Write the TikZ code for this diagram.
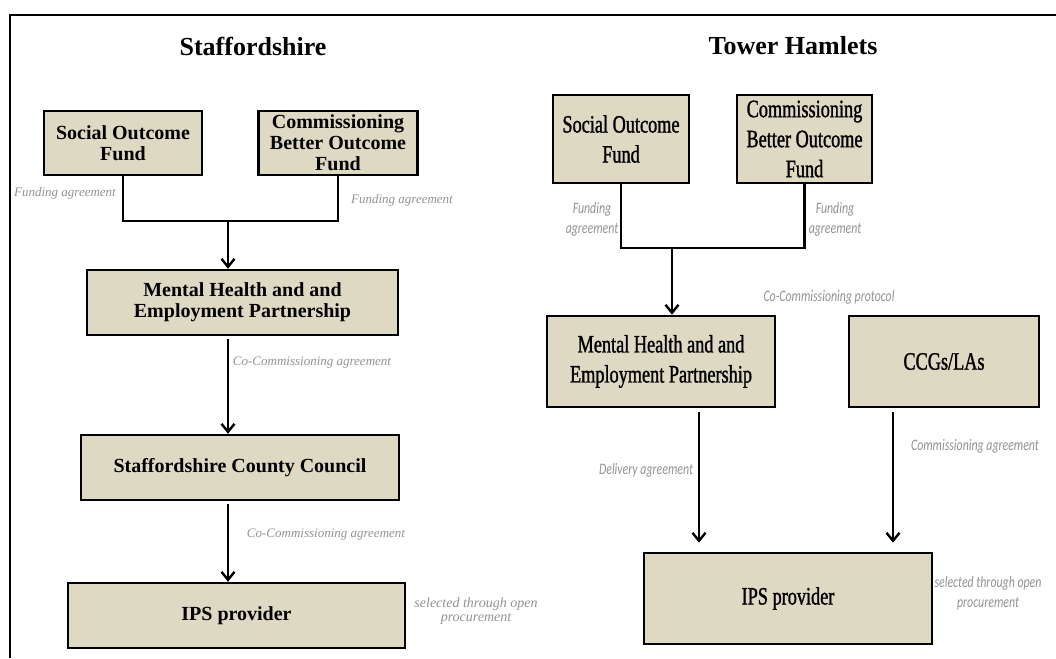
\documentclass[tikz,border=0pt]{standalone}
\usepackage{fontspec}
\setmainfont{Liberation Serif}
\newfontfamily\condserif[FakeStretch=0.73,FakeBold=1.2]{Liberation Serif}
\newfontfamily\condsans[FakeStretch=0.74]{Carlito}
\usetikzlibrary{arrows.meta}
\definecolor{boxfill}{HTML}{DDD9C3}
\definecolor{lblgray}{HTML}{939393}
\begin{document}
\begin{tikzpicture}[x=1pt,y=-1pt,
  lbox/.style={draw=black, line width=2.5pt, fill=boxfill, align=center, inner sep=1pt, font=\fontsize{20}{21}\selectfont\bfseries},
  rbox/.style={draw=black, line width=2.6pt, fill=boxfill, align=center, inner sep=1pt, font=\fontsize{25}{30}\selectfont\condserif},
  llab/.style={text=lblgray, align=center, inner sep=0pt, font=\fontsize{13}{14}\selectfont\itshape},
  rlab/.style={text=lblgray, align=center, inner sep=0pt, font=\fontsize{16}{20}\selectfont\condsans\itshape},
  conn/.style={line width=2.4pt},
  arr/.style={line width=2.4pt, -{Straight Barb[length=8pt,width=13pt]}},
  ttl/.style={font=\fontsize{26}{30}\selectfont\bfseries, inner sep=0pt}
]
\useasboundingbox (0,0) rectangle (1056,658);
\fill[white] (0,0) rectangle (1056,658);
\draw[line width=2.4pt] (10,658) -- (10,15) -- (1056,15);

% ---------- Staffordshire ----------
\node[ttl] (tL) at (253,46) {Staffordshire};
\node[lbox, minimum width=158pt, minimum height=64pt] (sofL) at (123,143) {Social Outcome\\Fund};
\node[lbox, minimum width=159pt, minimum height=64pt] (cbofL) at (338,143) {Commissioning\\Better Outcome\\Fund};
\node[lbox, minimum width=311pt, minimum height=65pt] (mhepL) at (242.5,302.5) {Mental Health and and\\Employment Partnership};
\node[lbox, minimum width=318pt, minimum height=65pt] (sccL) at (240,467.5) {Staffordshire County Council};
\node[lbox, minimum width=337pt, minimum height=65pt] (ipsL) at (236.5,615.5) {IPS provider};

\coordinate (jL) at (228,221);
\draw[conn] (sofL.south) |- (jL) -| (cbofL.south);
\draw[arr] (jL) -- (jL |- mhepL.north);
\draw[arr, shorten <=3pt] (mhepL.south -| jL) -- (sccL.north -| jL);
\draw[arr, shorten <=3pt] (sccL.south -| jL) -- (ipsL.north -| jL);

\node[llab] (fa1) at (65,193) {Funding agreement};
\node[llab] (fa2) at (402,200) {Funding agreement};
\node[llab] (cc1) at (312,363) {Co-Commissioning agreement};
\node[llab] (cc2) at (326,535) {Co-Commissioning agreement};
\node[llab, font=\fontsize{14}{14}\selectfont\itshape] (selL) at (476,611) {selected through open\\procurement};

% ---------- Tower Hamlets ----------
\node[ttl] (tR) at (793,46) {Tower Hamlets};
\node[rbox, minimum width=136pt, minimum height=88pt] (sofR) at (621,139) {Social Outcome\\Fund};
\node[rbox, minimum width=135pt, minimum height=88pt] (cbofR) at (804.5,139) {Commissioning\\Better Outcome\\Fund};
\node[rbox, minimum width=228pt, minimum height=91pt] (mhepR) at (661,361.5) {Mental Health and and\\Employment Partnership};
\node[rbox, minimum width=190pt, minimum height=91pt] (ccgs) at (944,361.5) {CCGs/LAs};
\node[rbox, minimum width=288pt, minimum height=91pt] (ipsR) at (788,598.5) {IPS provider};

\coordinate (jR) at (672,248);
\coordinate (aR1) at (699,0);
\coordinate (aR2) at (893,0);
\draw[conn] (sofR.south) |- (jR) -| (cbofR.south);
\draw[arr] (jR) -- (jR |- mhepR.north);
\draw[arr, shorten <=4pt, shorten >=9pt] (mhepR.south -| aR1) -- (ipsR.north -| aR1);
\draw[arr, shorten <=4pt, shorten >=9pt] (ccgs.south -| aR2) -- (ipsR.north -| aR2);

\node[rlab] (fa3) at (592,219) {Funding\\agreement};
\node[rlab] (fa4) at (835,219) {Funding\\agreement};
\node[rlab] (ccp) at (829,297) {Co-Commissioning protocol};
\node[rlab] (dela) at (646,470) {Delivery agreement};
\node[rlab] (coma) at (975,446) {Commissioning agreement};
\node[rlab] (selR) at (988,593) {selected through open\\procurement};
\end{tikzpicture}
\end{document}
